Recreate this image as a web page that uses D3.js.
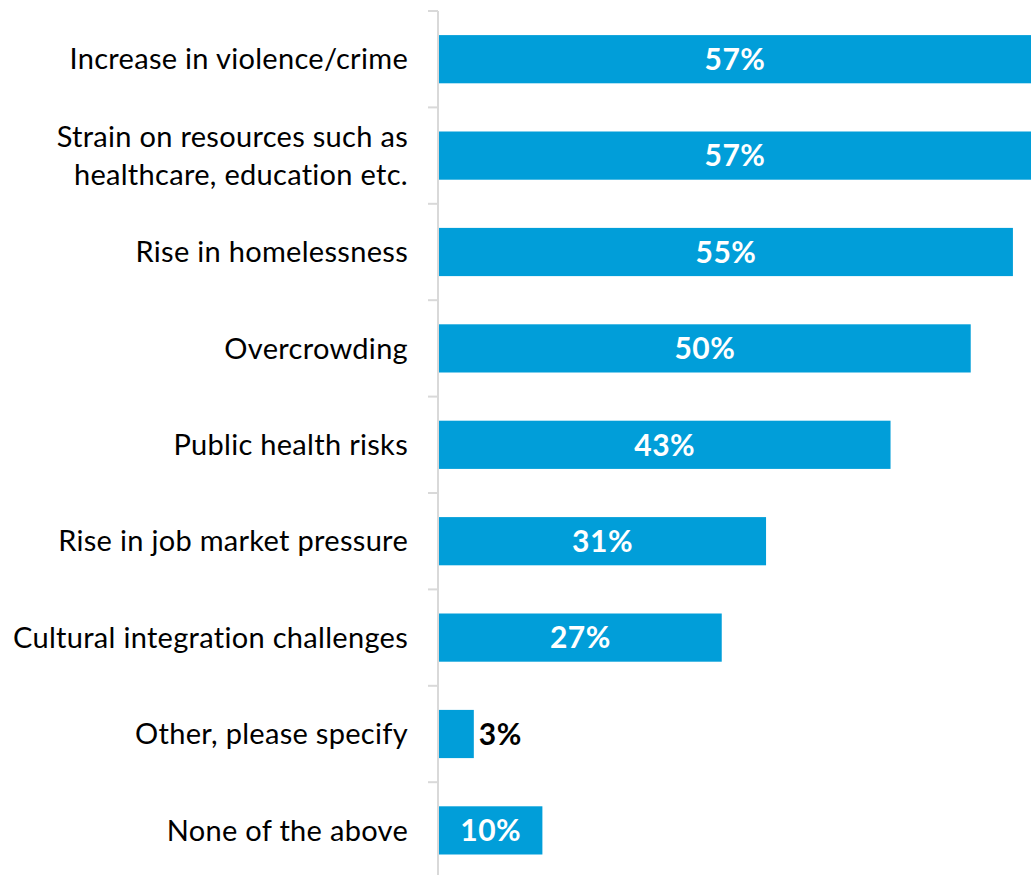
<!DOCTYPE html>
<html>
<head>
<meta charset="utf-8">
<script src="https://cdn.jsdelivr.net/npm/d3@7"></script>
<style>
  html, body { margin: 0; padding: 0; background: #fff; }
  svg { display: block; }
</style>
</head>
<body>
<svg id="chart" width="1031" height="875"></svg>
<script>
// ---- data ----
const categories = [
  "Increase in violence/crime",
  "Strain on resources such as|healthcare, education etc.",
  "Rise in homelessness",
  "Overcrowding",
  "Public health risks",
  "Rise in job market pressure",
  "Cultural integration challenges",
  "Other, please specify",
  "None of the above"
];
const values = [57.2, 57.1, 54.4, 50.4, 42.8, 31.0, 26.8, 3.3, 9.8];
const valueLabels = ["57%", "57%", "55%", "50%", "43%", "31%", "27%", "3%", "10%"];
const insideLabel = [true, true, true, true, true, true, true, false, true];

// ---- layout ----
const W = 1031, H = 875;
const x0 = 439;
const svg = d3.select("#chart");

const x = d3.scaleLinear().domain([0, 60]).range([x0, x0 + 633]);
const y = d3.scaleBand().domain(categories).range([11, 878.6])
  .paddingInner(0.5).paddingOuter(0.25);

const barColor = "#019ED9";
const axisColor = "#d9d9d9";
const font = "Lato, Carlito, Calibri, 'Open Sans', sans-serif";

svg.append("defs").append("clipPath").attr("id", "clip")
  .append("rect").attr("x", 0).attr("y", 0).attr("width", W).attr("height", H);

const g = svg.append("g").attr("clip-path", "url(#clip)");

// bars
g.selectAll("rect.bar").data(categories).join("rect")
  .attr("class", "bar")
  .attr("x", x(0))
  .attr("y", d => y(d))
  .attr("width", (d, i) => x(values[i]) - x(0))
  .attr("height", y.bandwidth())
  .attr("fill", barColor);

// axis line + ticks at band boundaries
const step = y.step();
const r0 = y.range()[0];
svg.append("line")
  .attr("x1", x0 - 1).attr("x2", x0 - 1)
  .attr("y1", r0).attr("y2", r0 + step * categories.length)
  .attr("stroke", axisColor).attr("stroke-width", 2);
d3.range(categories.length + 1).forEach(i => {
  svg.append("line")
    .attr("x1", x0 - 11).attr("x2", x0 - 1)
    .attr("y1", r0 + i * step).attr("y2", r0 + i * step)
    .attr("stroke", axisColor).attr("stroke-width", 2);
});

// category labels
const lineH = 38;
categories.forEach(c => {
  const lines = c.split("|");
  const cy = y(c) + y.bandwidth() / 2;
  const t = svg.append("text")
    .attr("x", 408)
    .attr("text-anchor", "end")
    .attr("font-family", font)
    .attr("font-size", 29)
    .attr("letter-spacing", "0.3px")
    .attr("fill", "#000");
  lines.forEach((ln, k) => {
    t.append("tspan")
      .attr("x", 408)
      .attr("y", cy + (k - (lines.length - 1) / 2) * lineH)
      .attr("dy", "0.35em")
      .text(ln);
  });
});

// value labels
categories.forEach((c, i) => {
  const cy = y(c) + y.bandwidth() / 2;
  const xEnd = Math.min(x(values[i]), W);
  const inside = insideLabel[i];
  svg.append("text")
    .attr("x", inside ? (x(0) + xEnd) / 2 : xEnd + 5)
    .attr("y", cy)
    .attr("dy", "0.36em")
    .attr("text-anchor", inside ? "middle" : "start")
    .attr("font-family", font)
    .attr("font-weight", "bold")
    .attr("font-size", 30)
    .attr("letter-spacing", "0.5px")
    .attr("fill", inside ? "#fff" : "#000")
    .text(valueLabels[i]);
});
</script>
</body>
</html>
